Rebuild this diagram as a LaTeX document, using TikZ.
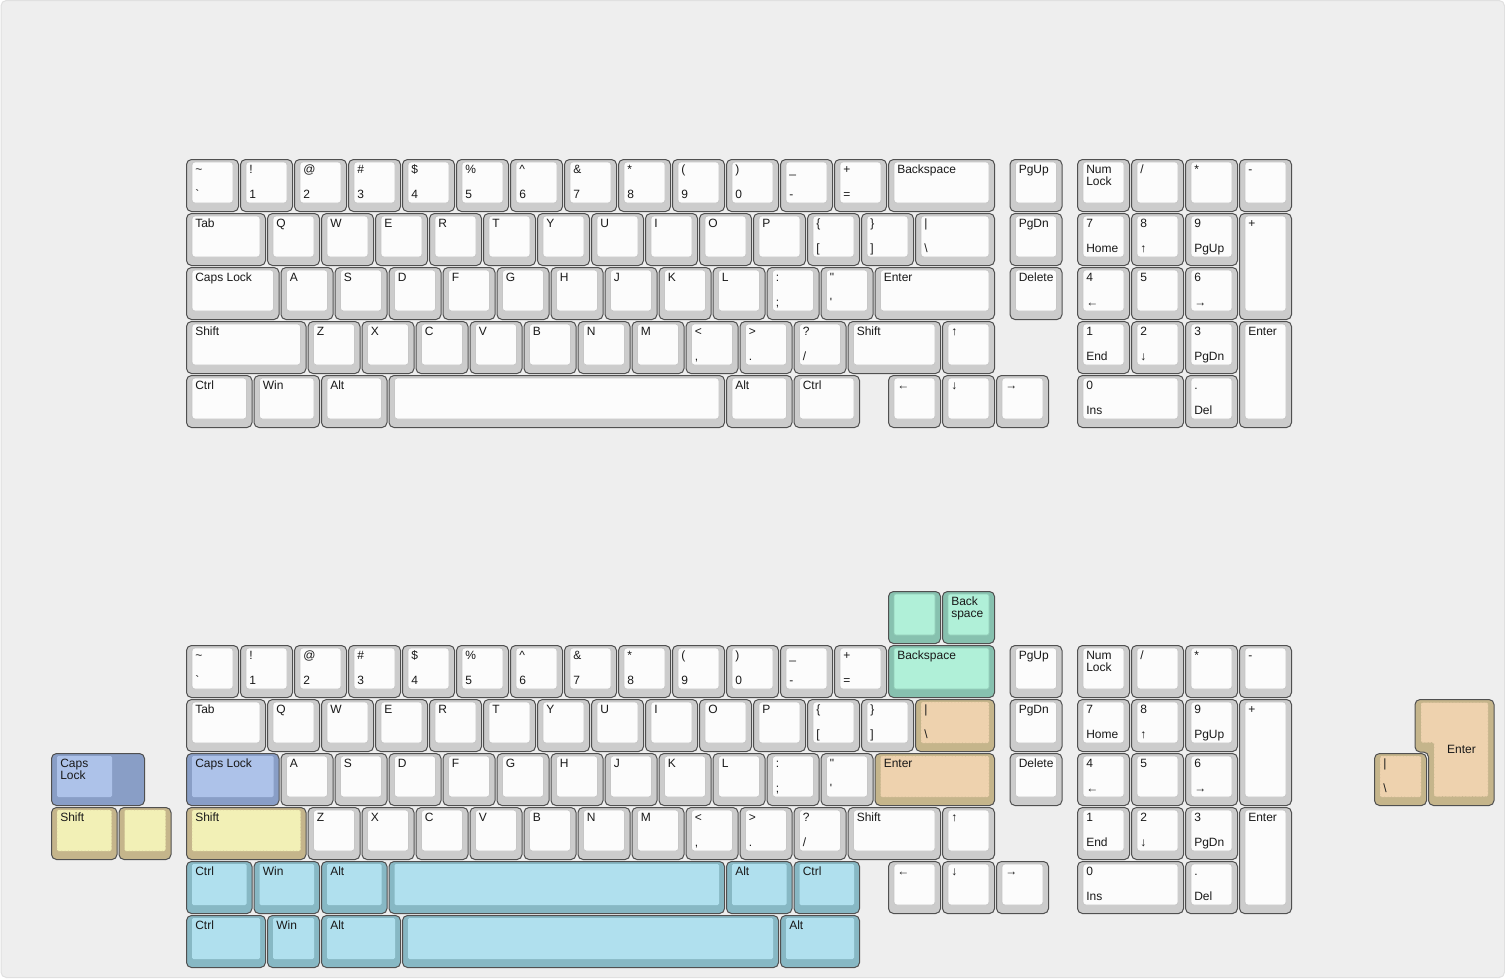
\documentclass[tikz,border=0pt]{standalone}
\usepackage{fontspec}
\newfontfamily\kf{Liberation Sans}
\newcounter{kc}
\definecolor{bgc}{HTML}{EEEEEE}
\definecolor{bdr}{HTML}{505050}
\definecolor{grO}{HTML}{CCCCCC}\definecolor{grI}{HTML}{FCFCFC}\definecolor{grL}{HTML}{C6C6C6}
\definecolor{blO}{HTML}{899EC6}\definecolor{blI}{HTML}{ADC2E9}\definecolor{blL}{HTML}{93A8CF}
\definecolor{yeO}{HTML}{C5B58B}\definecolor{yeI}{HTML}{F2F0B6}\definecolor{yeL}{HTML}{D2C894}
\definecolor{cyO}{HTML}{87B8C4}\definecolor{cyI}{HTML}{B0E0EE}\definecolor{cyL}{HTML}{93C4D0}
\definecolor{miO}{HTML}{87C1AF}\definecolor{miI}{HTML}{B0F0D8}\definecolor{miL}{HTML}{92CDB8}
\definecolor{taO}{HTML}{C5B58B}\definecolor{taI}{HTML}{EED2AE}\definecolor{taL}{HTML}{C9B590}
\tikzset{
  ogr/.style={draw=bdr,fill=grO,line width=0.75pt,rounded corners=3.75pt},
  igr/.style={draw=grL,fill=grI,line width=0.5pt,rounded corners=2.25pt},
  obl/.style={draw=bdr,fill=blO,line width=0.75pt,rounded corners=3.75pt},
  ibl/.style={draw=none,fill=blI,rounded corners=1pt},
  oye/.style={draw=bdr,fill=yeO,line width=0.75pt,rounded corners=3.75pt},
  iye/.style={draw=yeL,dotted,fill=yeI,line width=0.5pt,rounded corners=1pt},
  ocy/.style={draw=bdr,fill=cyO,line width=0.75pt,rounded corners=3.75pt},
  icy/.style={draw=none,fill=cyI,rounded corners=1pt},
  omi/.style={draw=bdr,fill=miO,line width=0.75pt,rounded corners=3.75pt},
  imi/.style={draw=miL,fill=miI,line width=0.5pt,rounded corners=1.5pt},
  ota/.style={draw=bdr,fill=taO,line width=0.75pt,rounded corners=3.75pt},
  ita/.style={draw=taL,dotted,fill=taI,line width=0.5pt,rounded corners=1pt},
  lbl/.style={anchor=base west,inner sep=0pt,text=black!90,font=\kf\fontsize{9pt}{10pt}\selectfont},
}
% #1 scheme, #2 x, #3 y, #4 w, #5 h, #6 top label, #7 bottom label
\newcommand\kk[7][gr]{%
  \pgfmathsetmacro\xa{186+54*(#2)}\pgfmathsetmacro\ya{159+54*(#3)}%
  \pgfmathsetmacro\xb{\xa+54*(#4)}\pgfmathsetmacro\yb{\ya+54*(#5)}%
  \stepcounter{kc}%
  \path[o#1] (\xa+0.5,\ya+0.5) rectangle (\xb-1.5,\yb-1.5);
  \path[i#1] (\xa+6,\ya+3) rectangle (\xb-7,\yb-10);
  \node[lbl] (t\arabic{kc}) at (\xa+9,\ya+14.5) {#6};
  \node[lbl] (b\arabic{kc}) at (\xa+9,\ya+39.5) {#7};
}
\newcommand\two[2]{\vtop{\baselineskip=8.7pt\hbox{#1}\hbox{#2}}}
\newcommand\rowA[2]{%
  \kk{0}{#1}{1}{1}{\char"7E}{\char"60}
  \kk{1}{#1}{1}{1}{!}{1}
  \kk{2}{#1}{1}{1}{@}{2}
  \kk{3}{#1}{1}{1}{\#}{3}
  \kk{4}{#1}{1}{1}{\$}{4}
  \kk{5}{#1}{1}{1}{\%}{5}
  \kk{6}{#1}{1}{1}{\char"5E}{6}
  \kk{7}{#1}{1}{1}{\&}{7}
  \kk{8}{#1}{1}{1}{*}{8}
  \kk{9}{#1}{1}{1}{(}{9}
  \kk{10}{#1}{1}{1}{)}{0}
  \kk{11}{#1}{1}{1}{\char"5F}{-}
  \kk{12}{#1}{1}{1}{+}{=}
  \kk[#2]{13}{#1}{2}{1}{Backspace}{}
}
\newcommand\rowB[2]{%
  \kk{0}{#1}{1.5}{1}{Tab}{}
  \kk{1.5}{#1}{1}{1}{Q}{}
  \kk{2.5}{#1}{1}{1}{W}{}
  \kk{3.5}{#1}{1}{1}{E}{}
  \kk{4.5}{#1}{1}{1}{R}{}
  \kk{5.5}{#1}{1}{1}{T}{}
  \kk{6.5}{#1}{1}{1}{Y}{}
  \kk{7.5}{#1}{1}{1}{U}{}
  \kk{8.5}{#1}{1}{1}{I}{}
  \kk{9.5}{#1}{1}{1}{O}{}
  \kk{10.5}{#1}{1}{1}{P}{}
  \kk{11.5}{#1}{1}{1}{\char"7B}{[}
  \kk{12.5}{#1}{1}{1}{\char"7D}{]}
  \kk[#2]{13.5}{#1}{1.5}{1}{|}{\char"5C}
}
\newcommand\rowC[3]{%
  \kk[#2]{0}{#1}{1.75}{1}{Caps Lock}{}
  \kk{1.75}{#1}{1}{1}{A}{}
  \kk{2.75}{#1}{1}{1}{S}{}
  \kk{3.75}{#1}{1}{1}{D}{}
  \kk{4.75}{#1}{1}{1}{F}{}
  \kk{5.75}{#1}{1}{1}{G}{}
  \kk{6.75}{#1}{1}{1}{H}{}
  \kk{7.75}{#1}{1}{1}{J}{}
  \kk{8.75}{#1}{1}{1}{K}{}
  \kk{9.75}{#1}{1}{1}{L}{}
  \kk{10.75}{#1}{1}{1}{:}{;}
  \kk{11.75}{#1}{1}{1}{\char"22}{\char"27}
  \kk[#3]{12.75}{#1}{2.25}{1}{Enter}{}
}
\newcommand\rowD[2]{%
  \kk[#2]{0}{#1}{2.25}{1}{Shift}{}
  \kk{2.25}{#1}{1}{1}{Z}{}
  \kk{3.25}{#1}{1}{1}{X}{}
  \kk{4.25}{#1}{1}{1}{C}{}
  \kk{5.25}{#1}{1}{1}{V}{}
  \kk{6.25}{#1}{1}{1}{B}{}
  \kk{7.25}{#1}{1}{1}{N}{}
  \kk{8.25}{#1}{1}{1}{M}{}
  \kk{9.25}{#1}{1}{1}{<}{,}
  \kk{10.25}{#1}{1}{1}{>}{.}
  \kk{11.25}{#1}{1}{1}{?}{/}
  \kk{12.25}{#1}{1.75}{1}{Shift}{}
  \kk{14}{#1}{1}{1}{↑}{}
}
\newcommand\rowE[2]{%
  \kk[#2]{0}{#1}{1.25}{1}{Ctrl}{}
  \kk[#2]{1.25}{#1}{1.25}{1}{Win}{}
  \kk[#2]{2.5}{#1}{1.25}{1}{Alt}{}
  \kk[#2]{3.75}{#1}{6.25}{1}{}{}
  \kk[#2]{10}{#1}{1.25}{1}{Alt}{}
  \kk[#2]{11.25}{#1}{1.25}{1}{Ctrl}{}
  \kk{13}{#1}{1}{1}{←}{}
  \kk{14}{#1}{1}{1}{↓}{}
  \kk{15}{#1}{1}{1}{→}{}
}
\newcommand\navpad[1]{%
  \kk{15.25}{#1}{1}{1}{PgUp}{}
  \kk{15.25}{#1+1}{1}{1}{PgDn}{}
  \kk{15.25}{#1+2}{1}{1}{Delete}{}
  \kk{16.5}{#1}{1}{1}{\two{Num}{Lock}}{}
  \kk{17.5}{#1}{1}{1}{/}{}
  \kk{18.5}{#1}{1}{1}{*}{}
  \kk{19.5}{#1}{1}{1}{-}{}
  \kk{16.5}{#1+1}{1}{1}{7}{Home}
  \kk{17.5}{#1+1}{1}{1}{8}{↑}
  \kk{18.5}{#1+1}{1}{1}{9}{PgUp}
  \kk{19.5}{#1+1}{1}{2}{+}{}
  \kk{16.5}{#1+2}{1}{1}{4}{←}
  \kk{17.5}{#1+2}{1}{1}{5}{}
  \kk{18.5}{#1+2}{1}{1}{6}{→}
  \kk{16.5}{#1+3}{1}{1}{1}{End}
  \kk{17.5}{#1+3}{1}{1}{2}{↓}
  \kk{18.5}{#1+3}{1}{1}{3}{PgDn}
  \kk{19.5}{#1+3}{1}{2}{Enter}{}
  \kk{16.5}{#1+4}{2}{1}{0}{Ins}
  \kk{18.5}{#1+4}{1}{1}{.}{Del}
}
\begin{document}
\begin{tikzpicture}[x=0.75pt,y=-0.75pt]
\useasboundingbox (0,0) rectangle (1505,979);
\fill[white] (0,0) rectangle (1505,979);
\path[fill=bgc,draw=black!12,line width=0.75pt,rounded corners=4pt] (1,0.5) rectangle (1504.5,977.5);
% ---------- upper keyboard ----------
\rowA{0}{gr}
\rowB{1}{gr}
\rowC{2}{gr}{gr}
\rowD{3}{gr}
\rowE{4}{gr}
\navpad{0}
% ---------- lower keyboard ----------
\kk[mi]{13}{8}{1}{1}{}{}
\kk[mi]{14}{8}{1}{1}{\two{Back}{space}}{}
\rowA{9}{mi}
\rowB{10}{ta}
\rowC{11}{bl}{ta}
\rowD{12}{ye}
\rowE{13}{cy}
\navpad{9}
\kk[cy]{0}{14}{1.5}{1}{Ctrl}{}
\kk[cy]{1.5}{14}{1}{1}{Win}{}
\kk[cy]{2.5}{14}{1.5}{1}{Alt}{}
\kk[cy]{4}{14}{7}{1}{}{}
\kk[cy]{11}{14}{1.5}{1}{Alt}{}
% left extras
\path[obl] (51.5,753.5) rectangle (144.5,805.5);
\path[ibl] (57,756) rectangle (112,797);
\node[lbl] (capsstep) at (60,767.5) {\two{Caps}{Lock}};
\kk[ye]{-2.5}{12}{1.25}{1}{Shift}{}
\kk[ye]{-1.25}{12}{1}{1}{}{}
% right extras: ISO enter
\kk[ta]{22}{11}{1}{1}{|}{\char"5C}
\path[ota] (1415,699.5) -- (1494,699.5) -- (1494,805.5) -- (1428.5,805.5) -- (1428.5,752) -- (1415,752) -- cycle;
\path[ita] (1421,702.5) -- (1488,702.5) -- (1488,796.5) -- (1434,796.5) -- (1434,742.5) -- (1421,742.5) -- cycle;
\node[lbl,anchor=base] (isoenter) at (1461.5,753) {Enter};
\end{tikzpicture}
\end{document}
